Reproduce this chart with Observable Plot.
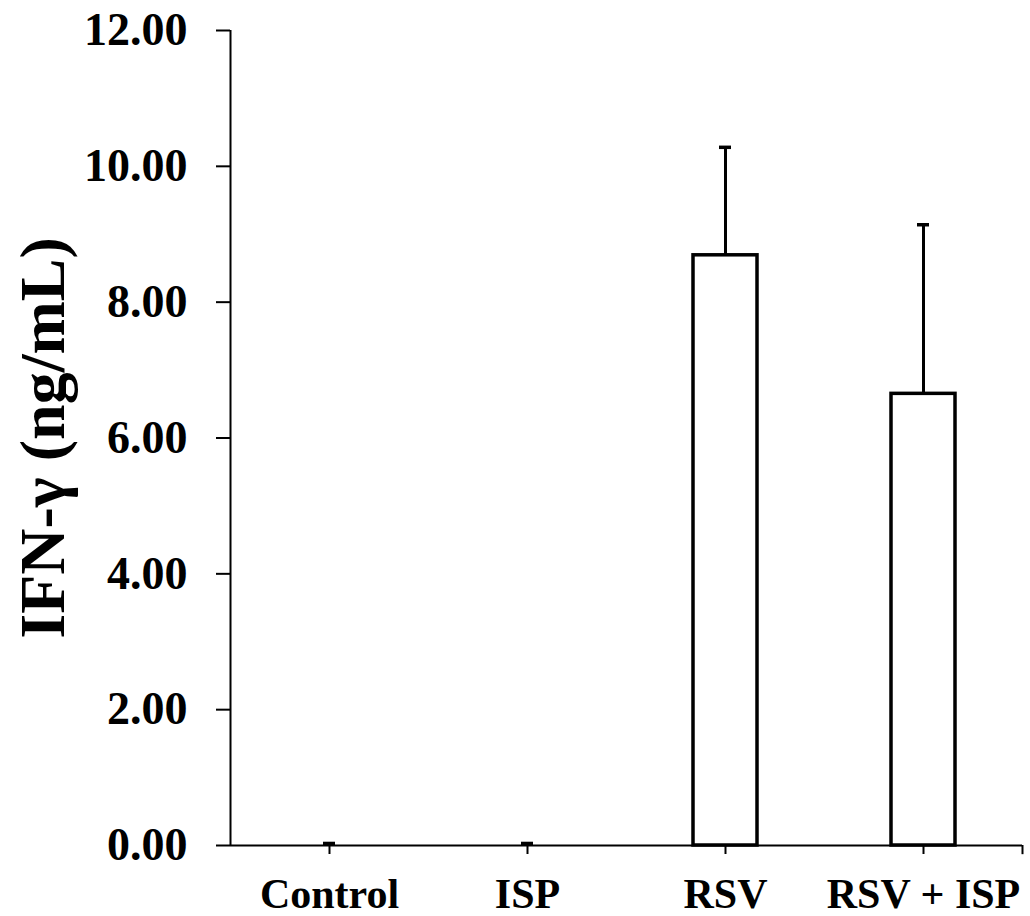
<!DOCTYPE html>
<html>
<head>
<meta charset="utf-8">
<script src="https://cdn.jsdelivr.net/npm/d3@7"></script>
<script src="https://cdn.jsdelivr.net/npm/@observablehq/plot@0.6"></script>
<style>
  html, body { margin: 0; padding: 0; background: #fff; }
  #chart svg { display: block; }
</style>
</head>
<body>
<div id="chart"></div>
<script>
const categories = ["Control", "ISP", "RSV", "RSV + ISP"];
const means = [0, 0, 8.69, 6.65];
const errors = [0.03, 0.03, 1.59, 2.49];
const yTicks = [0, 2, 4, 6, 8, 10, 12];
const yLabel = "IFN-\u03b3 (ng/mL)";

const data = categories.map((c, i) => ({ cat: c, mean: means[i], err: errors[i], top: means[i] + errors[i] }));
const font = "'Liberation Serif', 'Times New Roman', serif";

const chart = Plot.plot({
  width: 1030,
  height: 916,
  marginLeft: 230,
  marginRight: 8,
  marginTop: 30,
  marginBottom: 71,
  style: { fontFamily: font, background: "#fff", overflow: "visible" },
  x: { domain: categories, padding: 0 },
  y: { domain: [0, 12], ticks: yTicks },
  marks: [
    // error bar stems
    Plot.ruleX(data, { x: "cat", y1: "mean", y2: "top", stroke: "black", strokeWidth: 3 }),
    // bars
    Plot.barY(data.filter(d => d.mean > 0), { x: "cat", y: "mean", fill: "white", stroke: "black", strokeWidth: 3.5, insetLeft: 67, insetRight: 67 }),
    // error caps
    Plot.tickY(data, { x: "cat", y: "top", stroke: "black", strokeWidth: 3.5, insetLeft: 93, insetRight: 93 }),
    // x axis line
    Plot.ruleY([0], { stroke: "black", strokeWidth: 2 }),
    // y axis line
    Plot.ruleX([categories[0]], { x: d => d, y1: 0, y2: 12, dx: -99, stroke: "black", strokeWidth: 2 }),
    // right end tick of x axis
    Plot.ruleX([categories[categories.length - 1]], { x: d => d, y1: 0, y2: -0.135, dx: 99, stroke: "black", strokeWidth: 2 }),
    Plot.axisY({
      ticks: yTicks,
      tickSize: 14,
      tickPadding: 29,
      tickFormat: d3.format(".2f"),
      fontSize: 46,
      fontWeight: "bold",
      fill: "black",
      stroke: "black",
      strokeWidth: 2,
      label: null
    }),
    Plot.axisX({
      tickSize: 9,
      tickPadding: 24,
      fontSize: 42,
      fontWeight: "bold",
      fill: "black",
      stroke: "black",
      strokeWidth: 2,
      label: null
    }),
    Plot.text([yLabel], {
      frameAnchor: "left",
      dx: -187,
      rotate: -90,
      text: d => d,
      fontSize: 64,
      fontWeight: "bold",
      fill: "black",
      textAnchor: "middle",
      lineAnchor: "middle"
    })
  ]
});
document.getElementById("chart").appendChild(chart);
</script>
</body>
</html>
